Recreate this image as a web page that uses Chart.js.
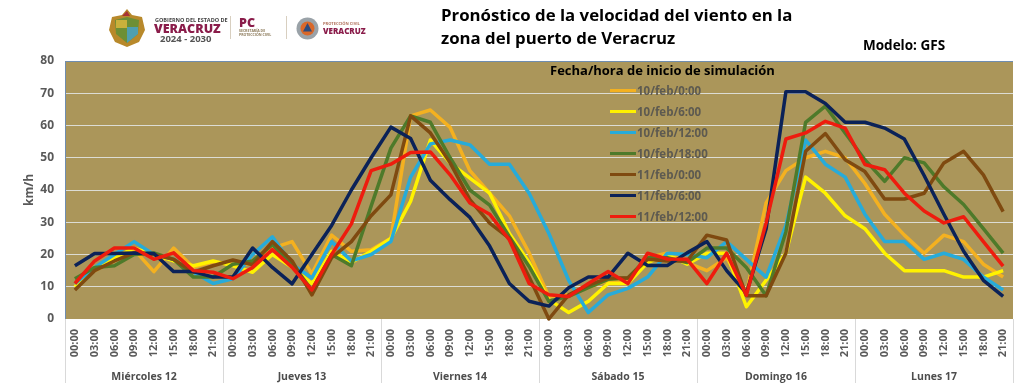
<!DOCTYPE html>
<html lang="es">
<head>
<meta charset="utf-8">
<title>Pronóstico de la velocidad del viento</title>
<script src="https://cdn.jsdelivr.net/npm/chart.js@4/dist/chart.umd.min.js"></script>
<style>
  html, body { margin: 0; padding: 0; background: #fff; }
  #wrap { position: relative; width: 1024px; height: 387px; overflow: hidden; font-family: "Open Sans", sans-serif; }
  #wrap canvas { position: absolute; left: 0; top: 0; }
  .abs { position: absolute; white-space: nowrap; }
  #title { left: 441px; top: 3px; font-size: 16.8px; line-height: 23px; font-weight: 700; color: #000; }
  #model { left: 863px; top: 36px; font-size: 13.5px; font-weight: 700; color: #000; }
  #legend-title { left: 550px; top: 61px; font-size: 13px; font-weight: 700; color: #000; }
  #legend { left: 610px; top: 80px; }
  .lg-row { display: flex; align-items: center; height: 21px; font-size: 11.5px; font-weight: 700; color: #5d5a50; }
  .lg-line { width: 26px; height: 3px; margin-right: 1px; }
  .logo-t { font-weight: 700; line-height: 1; }
</style>
</head>
<body>
<div id="wrap" style="width:1024px;height:387px">
  <canvas id="main-chart" width="1024" height="387"></canvas>

  <svg class="abs" style="left:108px;top:8px" width="38" height="40" viewBox="0 0 38 40">
    <path d="M19 1 L24 7 L34 9 L37 22 L31 34 L19 39 L7 34 L1 22 L4 9 L14 7 Z" fill="#b8892b"/>
    <path d="M19 3 L22 8 L14 8 Z" fill="#a83232"/>
    <path d="M19 9 L31 12 L30 26 L19 35 L8 26 L7 12 Z" fill="#6d8f35"/>
    <path d="M19 19 L30 19 L30 26 L19 35 Z" fill="#4f9fb0"/>
    <path d="M8 12 L19 12 L19 20 L8 20 Z" fill="#c9b13c"/>
  </svg>
  <div class="abs logo-t" style="left:155px;top:18px;font-size:5.5px;color:#444">GOBIERNO DEL ESTADO DE</div>
  <div class="abs logo-t" style="left:154px;top:23px;font-size:12.5px;color:#8a1c4a;font-weight:800">VERACRUZ</div>
  <div class="abs logo-t" style="left:160px;top:34px;font-size:9.5px;color:#555">2024 - 2030</div>
  <div class="abs" style="left:230px;top:16px;width:1px;height:23px;background:#d8cfc0"></div>
  <div class="abs logo-t" style="left:239px;top:17px;font-size:12.5px;color:#8a1c4a;font-weight:800">PC</div>
  <div class="abs logo-t" style="left:239px;top:29px;font-size:3.5px;color:#8c7a5a">SECRETARÍA DE<br>PROTECCIÓN CIVIL</div>
  <div class="abs" style="left:286px;top:16px;width:1px;height:23px;background:#d8cfc0"></div>
  <svg class="abs" style="left:295px;top:16px" width="25" height="25" viewBox="0 0 25 25">
    <circle cx="12.5" cy="12.5" r="11" fill="#9aa2a8"/>
    <circle cx="12.5" cy="12.5" r="7" fill="#d9682a"/>
    <path d="M12.5 7 L17 15.5 L8 15.5 Z" fill="#2b4a7d"/>
  </svg>
  <div class="abs logo-t" style="left:323px;top:22px;font-size:4px;color:#b0705a">PROTECCIÓN CIVIL</div>
  <div class="abs logo-t" style="left:323px;top:27px;font-size:8px;color:#8a1c4a;font-weight:800">VERACRUZ</div>

  <div id="title" class="abs">Pronóstico de la velocidad del viento en la<br>zona del puerto de Veracruz</div>
  <div id="model" class="abs">Modelo: GFS</div>
  <div id="legend-title" class="abs">Fecha/hora de inicio de simulación</div>
  <div id="legend" class="abs"></div>
</div>

<script>
const hours = ['00:00', '03:00', '06:00', '09:00', '12:00', '15:00', '18:00', '21:00'];
const days = ['Miércoles 12', 'Jueves 13', 'Viernes 14', 'Sábado 15', 'Domingo 16', 'Lunes 17'];
const yTicks = [0, 10, 20, 30, 40, 50, 60, 70, 80];

const run1000 = [11, 15, 18, 21.5, 14.7, 22, 16, 17.7, 17, 17, 22, 24, 14, 26, 21, 21.5, 25, 63, 64.8, 59.4, 46, 39, 32, 20.5, 7, 7.5, 9.7, 12, 12, 19, 20.5, 17.5, 15, 19, 8, 36, 46, 50, 52, 50, 42, 32.5, 26, 20.4, 26, 24, 17, 13];
const run1006 = [10, 16, 19, 22, 20, 18, 16.5, 18, 16.5, 14.5, 20, 16, 11, 21, 17.5, 21, 25, 36.5, 55.5, 48.4, 43.7, 39, 26.5, 17.5, 6, 2, 5.5, 11, 11, 17.5, 20, 17, 20.4, 20.4, 3.8, 12, 20.4, 44, 39, 32, 28, 20.4, 15, 15, 15, 13, 13, 15];
const run1012 = [11, 16, 20, 24, 20, 18.5, 14.5, 11, 12.5, 20, 25.5, 17, 12.7, 24, 18, 20, 24, 44, 54.3, 55.5, 54, 48, 48, 39, 26.5, 12, 2, 7.5, 9.5, 13, 20.4, 20, 19, 24, 18.5, 13, 29, 55.5, 48, 44, 32.5, 24, 24, 18.5, 20.4, 18.5, 13, 9];
const run1018 = [12.5, 16, 16.5, 20, 20.5, 18.5, 13, 13, 17, 18, 23, 17, 9, 20, 16.5, 35, 53, 63, 61, 50, 40, 35.3, 25.5, 16.3, 5.5, 7, 9.7, 12.3, 12.7, 19, 19, 17.5, 22, 22, 16, 7.2, 27, 61, 66, 57.7, 49.4, 42.7, 50, 48.4, 41, 35.5, 28, 20.4];
const run1100 = [9, 15, 18, 20.5, 20, 18.5, 14.5, 16.5, 18.3, 16.8, 24, 18, 7.5, 19, 24, 32, 38.5, 63, 57.7, 48.4, 37, 29.7, 25, 13, 0, 7.5, 10.5, 12.7, 12.7, 18.5, 18, 18, 26, 24.5, 7.2, 7.2, 20.4, 52, 57.5, 49.4, 45.7, 37.2, 37.2, 39, 48.4, 52, 44.7, 33.3];
const run1106 = [16.5, 20.3, 20.3, 20.5, 20.3, 14.7, 14.7, 13, 13, 22, 16, 10.9, 20, 29, 40, 50, 59.5, 56, 43, 37, 31.5, 22.6, 11, 5.5, 4, 9.7, 13, 13, 20.4, 16.6, 16.6, 20.5, 24, 15, 8, 28, 70.5, 70.5, 66.8, 61, 61, 59.2, 55.8, 44.5, 32.5, 21, 12, 7];
const run1112 = [11, 18, 22, 22, 18.5, 20.5, 15, 14.5, 12.5, 16, 21.5, 16, 9, 20, 29.5, 46, 48, 51.6, 51.8, 44.7, 36, 32.5, 24.5, 11, 7.5, 7, 11, 14.7, 11, 20.4, 18.6, 18.5, 11, 20.4, 7.4, 29.8, 55.8, 57.7, 61.3, 59.2, 47.9, 46.3, 39, 33.5, 29.8, 31.7, 24, 16.4];

const seriesNames = ['10/feb/0:00', '10/feb/6:00', '10/feb/12:00', '10/feb/18:00', '11/feb/0:00', '11/feb/6:00', '11/feb/12:00'];
const seriesValues = [run1000, run1006, run1012, run1018, run1100, run1106, run1112];
const seriesColors = ['#F4B120', '#FFF200', '#27ABD9', '#4E7A2A', '#7F4A10', '#0B2258', '#EE1C0E'];

const labels = days.flatMap(() => hours);
const tc = '#595959';
const AREA_LEFT = 65, AREA_RIGHT = 1013, AREA_TOP = 61;

// plot background, borders and the day separators below the axis
const framePlugin = {
  id: 'frame',
  beforeDraw(chart) {
    const { ctx, chartArea: a } = chart;
    ctx.save();
    ctx.fillStyle = '#AB965A';
    ctx.fillRect(a.left, a.top, a.right - a.left, a.bottom - a.top);
    ctx.restore();
  },
  beforeDatasetsDraw(chart) {
    const { ctx, chartArea: a } = chart;
    ctx.save();
    ctx.strokeStyle = '#6f8db0';
    ctx.lineWidth = 1;
    ctx.beginPath();
    ctx.moveTo(a.left + 0.5, a.bottom);
    ctx.lineTo(a.left + 0.5, a.top + 0.5);
    ctx.lineTo(a.right, a.top + 0.5);
    ctx.stroke();
    ctx.restore();
  },
  afterDraw(chart) {
    const { ctx, chartArea: a } = chart;
    const step = (a.right - a.left) / days.length;
    ctx.save();
    ctx.strokeStyle = '#d9d9d9';
    ctx.lineWidth = 1;
    ctx.beginPath();
    for (let i = 0; i <= days.length; i++) {
      const x = Math.round(a.left + step * i) + 0.5;
      ctx.moveTo(x, a.bottom);
      ctx.lineTo(x, 383);
    }
    ctx.stroke();
    ctx.restore();
  }
};

new Chart(document.getElementById('main-chart'), {
  type: 'line',
  data: {
    labels,
    datasets: seriesNames.map((name, i) => ({
      label: name,
      data: seriesValues[i],
      // lower order draws on top: the latest run has to end up over the others
      order: seriesNames.length - i,
      borderColor: seriesColors[i],
      backgroundColor: seriesColors[i],
      borderWidth: 3.5,
      borderJoinStyle: 'round',
      pointRadius: 0,
      tension: 0,
      clip: false,
    }))
  },
  plugins: [framePlugin],
  options: {
    responsive: false,
    animation: false,
    layout: { padding: { left: 0, right: 1024 - AREA_RIGHT, top: AREA_TOP, bottom: 4 } },
    plugins: { legend: { display: false }, tooltip: { enabled: false } },
    scales: {
      x: {
        position: 'bottom',
        offset: true,
        grid: { display: false },
        border: { display: false },
        afterFit: s => { s.height = 42; },
        ticks: {
          color: tc, autoSkip: false, maxRotation: 90, minRotation: 90, padding: 2,
          font: { family: '"Open Sans", sans-serif', size: 11, weight: '700' }
        }
      },
      days: {
        type: 'category',
        position: 'bottom',
        labels: days,
        offset: true,
        grid: { display: false },
        border: { display: false },
        afterFit: s => { s.height = 22; },
        ticks: {
          color: '#4d4d4d', padding: 2, maxRotation: 0, autoSkip: false,
          font: { family: '"Open Sans", sans-serif', size: 10.5, weight: '700' }
        }
      },
      y: {
        min: 0, max: 80,
        afterFit: s => { s.width = AREA_LEFT; },
        afterBuildTicks: s => { s.ticks = yTicks.map(value => ({ value })); },
        grid: { color: ctx => ctx.tick.value === 0 || ctx.tick.value === 80 ? 'transparent' : '#dcdcd4', lineWidth: 1, drawTicks: false },
        border: { display: false },
        title: { display: true, text: 'km/h', color: tc, padding: { top: 22, bottom: 0 }, font: { family: '"Open Sans", sans-serif', size: 12, weight: '700' } },
        ticks: { color: tc, padding: 11, font: { family: '"Open Sans", sans-serif', size: 12, weight: '700' } }
      }
    }
  }
});

document.getElementById('legend').innerHTML = seriesNames.map((name, i) =>
  `<div class="lg-row"><div class="lg-line" style="background:${seriesColors[i]}"></div><span>${name}</span></div>`
).join('');
</script>
</body>
</html>
